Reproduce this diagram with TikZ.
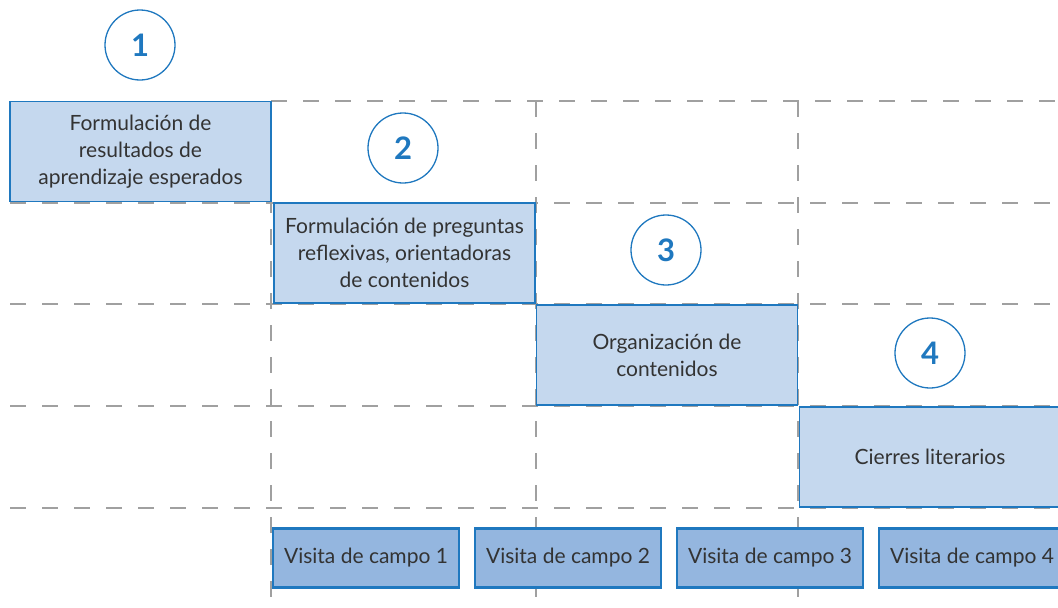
\documentclass[tikz,border=0pt]{standalone}
\usepackage{fontspec}
\setmainfont{Lato}
\usetikzlibrary{calc}

\definecolor{boxblue}{HTML}{C5D8EE}
\definecolor{visitblue}{HTML}{94B6DF}
\definecolor{lineblue}{HTML}{1F78BF}
\definecolor{textgray}{HTML}{333333}
\definecolor{gridgray}{HTML}{A0A0A0}

\tikzset{
    grid/.style = {gridgray, line width=1.3pt, dash pattern=on 16pt off 16pt},
    stage/.style = {draw=lineblue, line width=1.3pt, fill=boxblue, text=textgray,
        minimum width=261pt, minimum height=100pt, align=center, inner sep=0pt,
        font=\fontsize{21}{27}\selectfont},
    visit/.style = {draw=lineblue, line width=2.6pt, fill=visitblue, text=textgray,
        minimum width=186pt, minimum height=59pt, inner sep=0pt,
        font=\fontsize{21}{27}\selectfont},
    num/.style = {circle, draw=lineblue, line width=1.3pt, fill=white, text=lineblue,
        minimum size=70pt, inner sep=0pt, font=\fontsize{31}{31}\selectfont\bfseries}
}

\begin{document}
\begin{tikzpicture}[x=1pt, y=-1pt]
    \useasboundingbox (0,0) rectangle (1058,608);

    % Dashed grid
    \draw [grid] (271,101) -- (1070,101);
    \foreach \y in {203, 304, 406, 508} {
        \draw [grid] (10,\y) -- (1070,\y);
    }
    \foreach \x in {271, 536, 798} {
        \draw [grid] (\x,101) -- (\x,620);
    }

    % Stages
    \node [stage] (Sone)   at (140.5,151.5) {Formulación de\\resultados de\\aprendizaje esperados};
    \node [stage] (Stwo)   at (404.5,253)   {Formulación de preguntas\\reflexivas, orientadoras\\de contenidos};
    \node [stage] (Sthree) at (667,355)     {Organización de\\contenidos};
    \node [stage] (Sfour)  at (930,457)     {Cierres literarios};

    % Step numbers
    \node [num] (Cone)   at (140,45)  {1};
    \node [num] (Ctwo)   at (403,148) {2};
    \node [num] (Cthree) at (666,250) {3};
    \node [num] (Cfour)  at (930,353) {4};

    % Field visits
    \foreach \i in {1, 2, 3, 4} {
        \node [visit] (V\i) at ({366+202*(\i-1)},558) {Visita de campo \i};
    }
\end{tikzpicture}
\end{document}
